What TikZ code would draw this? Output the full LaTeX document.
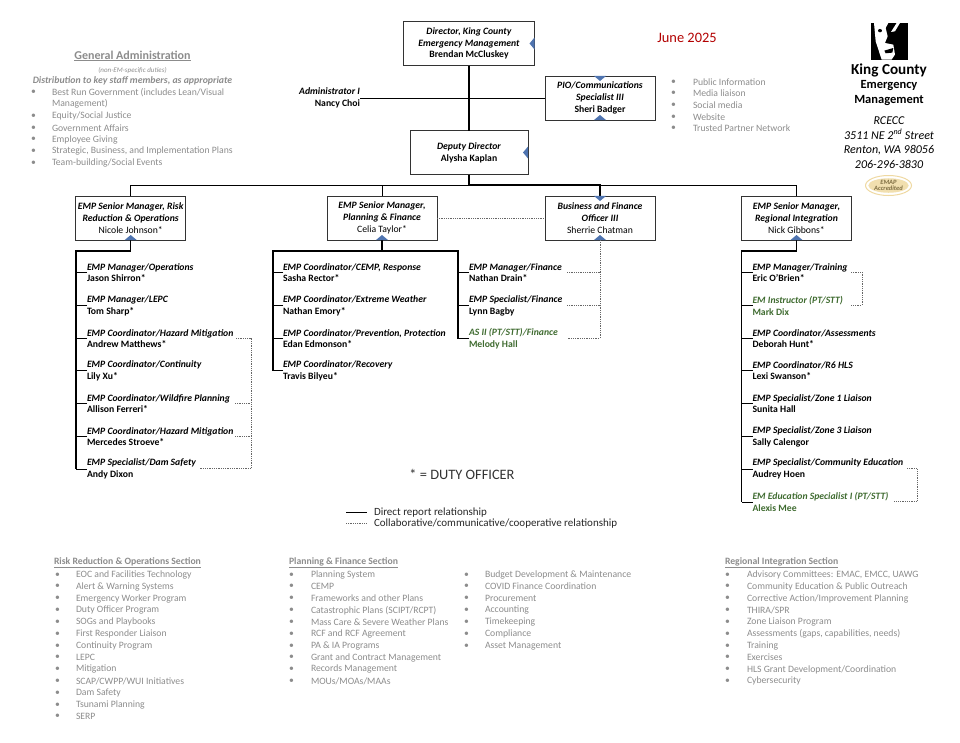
\documentclass[tikz,border=0pt]{standalone}
\usepackage{fontspec}
\setmainfont{Carlito}
\usetikzlibrary{positioning,shapes.geometric}
\definecolor{listgray}{HTML}{8C8C8C}
\definecolor{termgreen}{HTML}{3F6B30}
\definecolor{tabblue}{HTML}{4F74B0}
\definecolor{emapgold}{HTML}{E8C97A}
\def\sizenormal{\fontsize{9.7}{11.8}\selectfont}
\def\sizelist{\fontsize{9.7}{11.8}\selectfont}
% small triangle on the edge of a box: anchor, then the direction it points in
\newcommand{\boxtab}[2]{\fill[tabblue] (#1) ++(#2:5) -- ++(#2+130:7.8) -- ++(#2-90:12) -- cycle;}
\begin{document}
\begin{tikzpicture}[x=1pt,y=-1pt]
    \tikzstyle{every node}=[inner sep=0pt,outer sep=0pt]
    \tikzstyle{orgbox}=[draw=black!80,line width=0.9pt,fill=white,align=center,font=\sizenormal,minimum height=44pt]
    \tikzstyle{staff}=[anchor=west,align=left,font=\sizenormal]
    \tikzstyle{report}=[draw=black,line width=1pt]
    \tikzstyle{reportheavy}=[draw=black,line width=1.4pt]
    \tikzstyle{collab}=[draw=black!60,line width=0.8pt,densely dotted]
    \tikzstyle{listtext}=[anchor=west,font=\sizelist,text=listgray]
    \tikzstyle{listhead}=[anchor=west,font=\sizelist\bfseries,text=listgray]

    \useasboundingbox (0,0) rectangle (960,742);

    % Draw the boxes
    \node[orgbox,minimum width=131pt] (DIR) at (469,43.5) {\textbf{\textit{Director, King County}}\\\textbf{\textit{Emergency Management}}\\\textbf{Brendan McCluskey}};
    \node[orgbox,minimum width=110pt] (PIO) at (600,98) {\textbf{\textit{PIO/Communications}}\\\textbf{\textit{Specialist III}}\\\textbf{Sheri Badger}};
    \node[orgbox,minimum width=118pt] (DEP) at (469,152.5) {\textbf{\textit{Deputy Director}}\\\textbf{Alysha Kaplan}};
    \node[orgbox,minimum width=110pt] (SM-1) at (130.7,218) {\textbf{\textit{EMP Senior Manager, Risk}}\\\textbf{\textit{Reduction \& Operations}}\\Nicole Johnson*};
    \node[orgbox,minimum width=110pt] (SM-2) at (382,218) {\textbf{\textit{EMP Senior Manager,}}\\\textbf{\textit{Planning \& Finance}}\\Celia Taylor*};
    \node[orgbox,minimum width=110pt] (SM-3) at (600,218) {\textbf{\textit{Business and Finance}}\\\textbf{\textit{Officer III}}\\Sherrie Chatman};
    \node[orgbox,minimum width=110pt] (SM-4) at (796.5,218) {\textbf{\textit{EMP Senior Manager,}}\\\textbf{\textit{Regional Integration}}\\Nick Gibbons*};

    \node[anchor=east,align=right,font=\sizenormal\bfseries] (ADM) at (360,98) {\textit{Administrator I}\\Nancy Choi};

    % Top of the chart
    \coordinate (BUS) at (469,185);
    \path[reportheavy] (DIR) -- (DEP);
    \path[report] (ADM.east) -- (PIO.west);
    \path[reportheavy] (DEP) -- (BUS);
    \path[report] (SM-1.north) |- (BUS);
    \path[report] (SM-2.north) |- (BUS);
    \path[report] (SM-4.north) |- (BUS);
    \path[reportheavy] (SM-3.north) |- (BUS);
    \path[collab] (SM-2.east) -- (SM-3.west);

    % Rows under the first manager
    \foreach \name/\y/\job/\who in {
        ops/272.6/{EMP Manager/Operations}/{Jason Shirron*},
        lepc/305.6/{EMP Manager/LEPC}/{Tom Sharp*},
        haza/338.6/{EMP Coordinator/Hazard Mitigation}/{Andrew Matthews*},
        cont/370.6/{EMP Coordinator/Continuity}/{Lily Xu*},
        wild/403.6/{EMP Coordinator/Wildfire Planning}/{Allison Ferreri*},
        hazb/436.6/{EMP Coordinator/Hazard Mitigation}/{Mercedes Stroeve*},
        dam/469/{EMP Specialist/Dam Safety}/{Andy Dixon}}
        {
        \node[staff] (R-\name) at (87,\y) {\textbf{\textit{\job}}\\\textbf{\who}};
        \draw[report] (R-\name.west) -- (76,\y);
        }

    % Rows under the second manager
    \foreach \name/\y/\job/\who in {
        cemp/272.6/{EMP Coordinator/CEMP, Response}/{Sasha Rector*},
        wx/305.6/{EMP Coordinator/Extreme Weather}/{Nathan Emory*},
        prev/338.6/{EMP Coordinator/Prevention, Protection}/{Edan Edmonson*},
        rec/370.6/{EMP Coordinator/Recovery}/{Travis Bilyeu*}}
        {
        \node[staff] (P-\name) at (283,\y) {\textbf{\textit{\job}}\\\textbf{\who}};
        \draw[report] (P-\name.west) -- (273,\y);
        }

    % Rows under finance
    \foreach \name/\y/\job/\who/\col in {
        mgr/272.6/{EMP Manager/Finance}/{Nathan Drain*}/black,
        spec/305.6/{EMP Specialist/Finance}/{Lynn Bagby}/black,
        as/338.6/{AS II (PT/STT)/Finance}/{Melody Hall}/termgreen}
        {
        \node[staff,text=\col] (F-\name) at (469,\y) {\textbf{\textit{\job}}\\\textbf{\who}};
        \draw[report] (F-\name.west) -- (458,\y);
        }

    % Rows under the last manager
    \foreach \name/\y/\job/\who/\col in {
        trn/272.6/{EMP Manager/Training}/{Eric O'Brien*}/black,
        ins/305.6/{EM Instructor (PT/STT)}/{Mark Dix}/termgreen,
        ass/338.6/{EMP Coordinator/Assessments}/{Deborah Hunt*}/black,
        hls/370.6/{EMP Coordinator/R6 HLS}/{Lexi Swanson*}/black,
        zna/403.6/{EMP Specialist/Zone 1 Liaison}/{Sunita Hall}/black,
        znb/436.6/{EMP Specialist/Zone 3 Liaison}/{Sally Calengor}/black,
        edu/469/{EMP Specialist/Community Education}/{Audrey Hoen}/black,
        edi/502/{EM Education Specialist I (PT/STT)}/{Alexis Mee}/termgreen}
        {
        \node[staff,text=\col] (G-\name) at (752.5,\y) {\textbf{\textit{\job}}\\\textbf{\who}};
        \draw[report] (G-\name.west) -- (741.5,\y);
        }

    % The spines
    \draw[reportheavy] (SM-1.south) -- (130.7,251) -- (76,251) -- (76,469);
    \draw[reportheavy] (SM-2.south) -- (382,251);
    \draw[reportheavy] (273,370.6) -- (273,251) -- (458,251) -- (458,338.6);
    \draw[reportheavy] (SM-4.south) -- (796.5,251) -- (741.5,251) -- (741.5,502);

    % Dotted relationships
    \draw[collab] (236,338) -- (251,338) -- (251,468.5) -- (200,468.5);
    \draw[collab] (235,403) -- (251,403);
    \draw[collab] (235,436) -- (251,436);
    \draw[collab] (SM-3.south) -- (600,338) -- (567,338);
    \draw[collab] (567,272) -- (600,272);
    \draw[collab] (567,305) -- (600,305);
    \draw[collab] (851,272) -- (862,272) -- (862,305) -- (851,305);
    \draw[collab] (907,468.5) -- (917,468.5) -- (917,501.5) -- (894,501.5);

    % Triangles on the boxes
    \boxtab{DIR.east}{180}
    \boxtab{DEP.east}{180}
    \boxtab{PIO.north}{90}
    \boxtab{PIO.south}{-90}
    \boxtab{SM-3.north}{90}
    \foreach \i in {1,...,4}
        {\boxtab{SM-\i.south}{-90}}

    % Lists
    \node[font=\fontsize{12}{14}\selectfont\bfseries,text=listgray] (GA-head) at (132.5,56) {\underline{General Administration}};
    \node[font=\fontsize{7}{8}\selectfont\itshape,text=listgray] (GA-sub) at (132.5,70.5) {(non-EM-specific duties)};
    \node[font=\fontsize{9.8}{11.8}\selectfont\bfseries\itshape,text=listgray] (GA-note) at (132.5,80.5) {Distribution to key staff members, as appropriate};

    \foreach \y/\txt in {92.5/{Best Run Government (includes Lean/Visual},116/{Equity/Social Justice},127.8/{Government Affairs},139.6/{Employee Giving},151.4/{Strategic, Business, and Implementation Plans},163.2/{Team-building/Social Events}}
        {\node[listtext] at (31,\y) {•}; \node[listtext] at (52,\y) {\txt};}
    \node[listtext] (GA-cont) at (52,104.2) {Management)};

    \foreach \y/\txt in {82.5/{Public Information},93.5/{Media liaison},105/{Social media},117/{Website},128.5/{Trusted Partner Network}}
        {\node[listtext] at (671,\y) {•}; \node[listtext] at (693,\y) {\txt};}

    \node[listhead] (RR-head) at (54,563) {\underline{Risk Reduction \& Operations Section}};
    \foreach \txt [count=\i from 0] in {EOC and Facilities Technology,Alert \& Warning Systems,Emergency Worker Program,Duty Officer Program,SOGs and Playbooks,First Responder Liaison,Continuity Program,LEPC,Mitigation,SCAP/CWPP/WUI Initiatives,Dam Safety,Tsunami Planning,SERP}
        {\node[listtext] at (55,574.8+11.83*\i) {•}; \node[listtext] at (76,574.8+11.83*\i) {\txt};}

    \node[listhead] (PF-head) at (289,562.5) {\underline{Planning \& Finance Section}};
    \foreach \txt [count=\i from 0] in {Planning System,CEMP,Frameworks and other Plans,Catastrophic Plans (SCIPT/RCPT),Mass Care \& Severe Weather Plans,RCF and RCF Agreement,PA \& IA Programs,Grant and Contract Management,Records Management,MOUs/MOAs/MAAs}
        {\node[listtext] at (289,574.8+11.83*\i) {•}; \node[listtext] at (311,574.8+11.83*\i) {\txt};}

    \foreach \txt [count=\i from 0] in {Budget Development \& Maintenance,COVID Finance Coordination,Procurement,Accounting,Timekeeping,Compliance,Asset Management}
        {\node[listtext] at (464,574.8+11.83*\i) {•}; \node[listtext] at (485,574.8+11.83*\i) {\txt};}

    \node[listhead] (RI-head) at (725,562.5) {\underline{Regional Integration Section}};
    \foreach \txt [count=\i from 0] in {{Advisory Committees: EMAC, EMCC, UAWG},Community Education \& Public Outreach,Corrective Action/Improvement Planning,THIRA/SPR,Zone Liaison Program,{Assessments (gaps, capabilities, needs)},Training,Exercises,HLS Grant Development/Coordination,Cybersecurity}
        {\node[listtext] at (725,574.8+11.83*\i) {•}; \node[listtext] at (747,574.8+11.83*\i) {\txt};}

    % Date and duty officer note
    \node[font=\fontsize{14.4}{16}\selectfont,text=red!70!black] (DATE) at (687,38) {June 2025};
    \node[font=\fontsize{14.4}{16}\selectfont,text=black!80] (DUTY) at (462,474.5) {* = DUTY OFFICER};

    % Legend
    \node[anchor=west,font=\fontsize{11}{13}\selectfont,text=black!85] (LEG-1) at (374,512.5) {Direct report relationship};
    \node[anchor=west,font=\fontsize{11}{13}\selectfont,text=black!85] (LEG-2) at (374,524) {Collaborative/communicative/cooperative relationship};
    \coordinate (LEG-a) at (346,512);
    \coordinate (LEG-b) at (346,523);
    \draw[report] (LEG-a) -- (367,512);
    \draw[collab] (LEG-b) -- (367,523);

    % Logo and address
    \fill[black] (870.5,23) rectangle (907.5,59.5);
    \begin{scope}[shift={(865,18)},x=0.333pt,y=-0.333pt]
        \fill[white] (27,15) -- (70,15) -- (62,30) -- (68,55) -- (60,75) -- (85,80) -- (90,110) -- (80,125) -- (50,125) -- (32,70) -- cycle;
        \fill[white] (78,42) -- (95,15) -- (105,15) -- (90,40) -- cycle;
        \fill[black] (45,38) ellipse (6 and 5);
        \fill[black] (58,98) -- (85,90) -- (82,104) -- (62,106) -- cycle;
    \end{scope}
    \node[font=\fontsize{15.2}{17}\selectfont\bfseries] (KC) at (889,70) {King County};
    \node[font=\fontsize{12.5}{15}\selectfont\bfseries,align=center] (EM) at (889,93.5) {Emergency\\Management};
    \node[font=\fontsize{12}{14.5}\selectfont\itshape,align=center] (ADDR) at (889,142.5) {RCECC\\3511 NE 2\textsuperscript{nd} Street\\Renton, WA 98056\\206-296-3830};
    \node[draw=emapgold!70,line width=1pt,ellipse,fill=white,minimum width=46pt,minimum height=20pt] (EMAP) at (888.5,185.5) {};
    \node[ellipse,fill=emapgold!60,minimum width=34pt,minimum height=14pt,font=\fontsize{6.5}{6}\selectfont\bfseries\itshape,align=center,text=black!45!emapgold] (EMAP-in) at (EMAP) {EMAP\\Accredited};
\end{tikzpicture}
\end{document}
